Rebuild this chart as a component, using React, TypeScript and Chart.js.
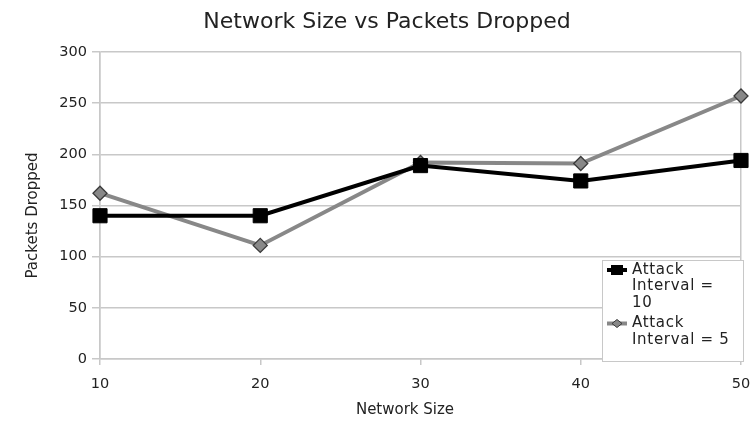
import React, { useEffect, useRef } from "react";
import { Chart, registerables } from "chart.js";

Chart.register(...registerables);

const networkSizes = [10, 20, 30, 40, 50];
const interval10 = [140, 140, 189, 174, 194];
const interval5 = [162, 111, 192, 191, 257];
const seriesLabels = [["Attack", "Interval =", "10"], ["Attack", "Interval = 5"]];
const titleText = "Network Size vs Packets Dropped";
const xTitle = "Network Size";
const yTitle = "Packets Dropped";

const FONT = "'DejaVu Sans', 'Liberation Sans', sans-serif";
const TEXT = "#222";
const GRID = "#c8c8c8";

const textPlugin = {
  id: "texts",
  afterDraw(chart: any) {
    const { ctx, chartArea } = chart;
    ctx.save();
    ctx.fillStyle = TEXT;
    // chart title
    ctx.font = `22px ${FONT}`;
    ctx.textAlign = "center";
    ctx.textBaseline = "alphabetic";
    ctx.fillText(titleText, 387, 28);
    // x axis title
    ctx.font = `15px ${FONT}`;
    ctx.fillText(xTitle, 405, 414);
    // y axis title
    ctx.translate(33, chartArea.top + (chartArea.bottom - chartArea.top) / 2 + 10);
    ctx.rotate(-Math.PI / 2);
    ctx.textBaseline = "middle";
    ctx.fillText(yTitle, 0, 0);
    ctx.restore();

    // legend box
    const x0 = chartArea.right - 139;
    const y0 = chartArea.bottom - 99;
    const w = 141;
    const h = 101;
    ctx.save();
    ctx.fillStyle = "#fff";
    ctx.fillRect(x0, y0, w, h);
    ctx.strokeStyle = "#c8c8c8";
    ctx.lineWidth = 1;
    ctx.strokeRect(x0 + 0.5, y0 + 0.5, w, h);
    ctx.font = `15px ${FONT}`;
    try {
      (ctx as any).letterSpacing = "0.7px";
    } catch (e) {}
    ctx.textBaseline = "middle";
    ctx.textAlign = "left";
    const lh = 16.5;
    let y = y0 + 10;
    chart.data.datasets.forEach((ds: any, i: number) => {
      const lines = seriesLabels[i];
      ctx.strokeStyle = ds.borderColor;
      ctx.lineWidth = 4;
      ctx.beginPath();
      ctx.moveTo(x0 + 5, y);
      ctx.lineTo(x0 + 25, y);
      ctx.stroke();
      ctx.fillStyle = ds.pointBackgroundColor;
      ctx.strokeStyle = ds.pointBorderColor;
      ctx.lineWidth = 1;
      const cx = x0 + 15;
      if (i === 0) {
        ctx.fillRect(cx - 6, y - 5, 12, 10);
      } else {
        ctx.beginPath();
        ctx.moveTo(cx, y - 4);
        ctx.lineTo(cx + 5, y);
        ctx.lineTo(cx, y + 4);
        ctx.lineTo(cx - 5, y);
        ctx.closePath();
        ctx.fill();
        ctx.stroke();
      }
      ctx.fillStyle = TEXT;
      lines.forEach((t, j) => {
        ctx.fillText(t, x0 + 30, y + j * lh);
      });
      y += lines.length * lh + 4;
    });
    ctx.restore();
  },
};

export default function App() {
  const ref = useRef<HTMLCanvasElement>(null);
  useEffect(() => {
    document.body.style.margin = "0";
    const chart = new Chart(ref.current!, {
      type: "line",
      data: {
        labels: networkSizes,
        datasets: [
          {
            label: seriesLabels[0].join(" "),
            data: networkSizes.map((x, i) => ({ x, y: interval10[i] })),
            borderColor: "#000",
            backgroundColor: "#000",
            borderWidth: 4,
            pointStyle: "rect",
            pointRadius: 10,
            pointBackgroundColor: "#000",
            pointBorderColor: "#000",
            pointBorderWidth: 1,
            tension: 0,
            clip: false,
          },
          {
            label: seriesLabels[1].join(" "),
            data: networkSizes.map((x, i) => ({ x, y: interval5[i] })),
            borderColor: "#888",
            backgroundColor: "#888",
            borderWidth: 4,
            pointStyle: "rectRot",
            pointRadius: 7,
            pointBackgroundColor: "#888",
            pointBorderColor: "#3a3a3a",
            pointBorderWidth: 1.3,
            tension: 0,
            clip: false,
          },
        ],
      },
      options: {
        animation: false,
        responsive: false,
        devicePixelRatio: 1,
        layout: { padding: { left: 0, right: 13, top: 52, bottom: 0 } },
        plugins: {
          legend: { display: false },
          tooltip: { enabled: false },
          title: { display: false },
        },
        scales: {
          x: {
            type: "linear",
            min: 10,
            max: 50,
            afterFit: (s: any) => {
              s.height = 67;
              s.paddingLeft = 0;
              s.paddingRight = 0;
            },
            ticks: {
              stepSize: 10,
              color: TEXT,
              font: { family: FONT, size: 14.5 },
              padding: 11,
            },
            grid: {
              color: (c: any) =>
                c.tick && (c.tick.value === 10 || c.tick.value === 50) ? GRID : "transparent",
              tickColor: GRID,
              tickLength: 6,
              lineWidth: 1.5,
            },
            border: { color: GRID, width: 1.5 },
            title: { display: false, text: xTitle },
          },
          y: {
            min: 0,
            max: 300,
            afterFit: (s: any) => {
              s.width = 100;
              s.paddingTop = 0;
              s.paddingBottom = 0;
            },
            ticks: {
              stepSize: 50,
              color: TEXT,
              font: { family: FONT, size: 14.5 },
              padding: 5,
            },
            grid: {
              color: GRID,
              tickColor: GRID,
              tickLength: 8,
              lineWidth: 1.5,
            },
            border: { color: GRID, width: 1.5 },
            title: { display: false, text: yTitle },
          },
        },
      },
      plugins: [textPlugin],
    });
    return () => chart.destroy();
  }, []);
  return <canvas ref={ref} width={754} height={426} style={{ display: "block" }} />;
}
